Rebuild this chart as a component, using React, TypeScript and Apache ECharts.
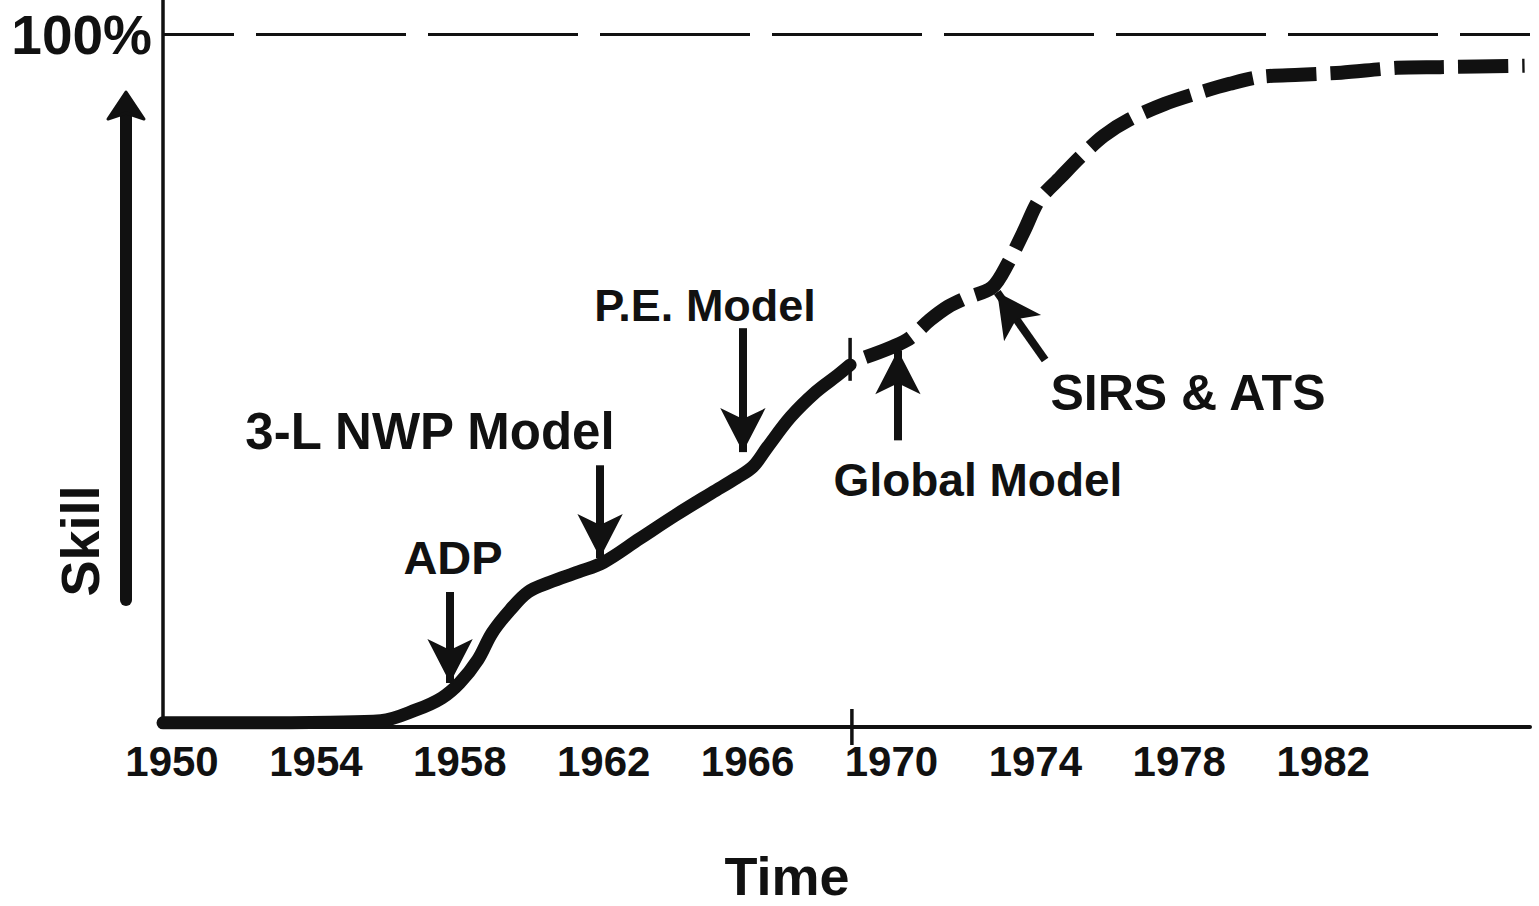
import { useEffect, useRef } from 'react';
import * as echarts from 'echarts';

// ---- data ----
const yearLabels = [1950, 1954, 1958, 1962, 1966, 1970, 1974, 1978, 1982];
const skillTicks = [100];

const solidYears = [1949.75, 1952.2, 1954.4, 1955.8, 1956.8, 1957.5, 1958.0, 1958.5, 1958.9, 1959.4, 1959.9, 1960.5, 1961.3, 1962.0, 1963.0, 1964.0, 1965.0, 1965.7, 1966.15, 1966.55, 1967.2, 1967.9, 1968.5, 1968.85];
const solidSkill = [0.6, 0.6, 0.7, 0.9, 2.5, 4.2, 6.4, 9.7, 13.6, 16.9, 19.5, 20.9, 22.4, 23.8, 27.2, 30.6, 33.8, 36.0, 37.6, 40.4, 44.8, 48.4, 50.8, 52.3];

const dashedYears = [1969.27, 1970.43, 1971.07, 1971.57, 1972.0, 1972.8, 1973.24, 1973.7, 1974.1, 1974.7, 1975.24, 1975.9, 1976.6, 1977.6, 1978.6, 1979.4, 1980.25, 1981.36, 1982.5, 1984.05, 1985.25, 1987.6];
const dashedSkill = [53.4, 55.9, 58.8, 60.7, 61.8, 63.5, 67.0, 71.8, 76.1, 79.4, 82.3, 85.4, 87.7, 90.0, 91.7, 92.9, 93.9, 94.2, 94.5, 95.2, 95.3, 95.5];

const breakYear = 1968.9;
const breakCurveSkill = [50.0, 56.2];
const breakAxisSkill = [-2.6, 2.6];

const yearMin = 1949.75;
const yearMax = 1987.75;
const skillMax = 105;

const arrowNames = ['ADP', '3-L NWP Model', 'P.E. Model', 'Global Model', 'SIRS & ATS'];
const arrowFrom = [[1957.73, 19.5], [1961.9, 37.8], [1965.87, 57.6], [1970.18, 41.4], [1974.27, 53.0]];
const arrowTo = [[1957.73, 6.35], [1961.9, 24.4], [1965.87, 39.7], [1970.18, 54.4], [1972.94, 62.8]];

const INK = '#111';
const FONT = '"Liberation Sans", Arial, sans-serif';

export default function App() {
  const ref = useRef<HTMLDivElement>(null);

  useEffect(() => {
    if (!ref.current) return;
    const chart = echarts.init(ref.current, null, { renderer: 'svg' });

    const txt = (text: string, x: number, y: number, size: number, rotation = 0) => ({
      type: 'text',
      x,
      y,
      rotation,
      silent: true,
      style: {
        text,
        fill: INK,
        font: `bold ${size}px ${FONT}`,
        textAlign: 'center',
        textVerticalAlign: 'middle',
      },
    });

    const option: any = {
      animation: false,
      backgroundColor: '#fff',
      grid: { left: 163, right: 9, top: 0, bottom: 179, containLabel: false },
      xAxis: {
        type: 'value',
        min: yearMin,
        max: yearMax,
        axisLine: { show: true, onZero: false, lineStyle: { color: INK, width: 4 } },
        axisTick: { show: false },
        splitLine: { show: false },
        axisLabel: {
          customValues: yearLabels,
          formatter: (v: number) => String(Math.round(v)),
          fontSize: 42,
          fontWeight: 'bold',
          fontFamily: FONT,
          color: INK,
          margin: 13,
        },
      },
      yAxis: {
        type: 'value',
        min: 0,
        max: skillMax,
        interval: 100,
        axisLine: { show: true, lineStyle: { color: INK, width: 3.5 } },
        axisTick: { show: false },
        splitLine: { show: false },
        axisLabel: {
          formatter: (v: number) => (skillTicks.includes(v) ? `${v}%` : ''),
          fontSize: 55,
          fontWeight: 'bold',
          fontFamily: FONT,
          color: INK,
          margin: 11,
        },
      },
      series: [
        {
          type: 'line',
          data: [[yearMin, 100], [yearMax, 100]],
          symbol: 'none',
          silent: true,
          lineStyle: { color: INK, width: 3, type: [150, 22], dashOffset: 79 },
        },
        {
          type: 'line',
          data: solidYears.map((y, i) => [y, solidSkill[i]]),
          symbol: 'none',
          smooth: 0.35,
          silent: true,
          lineStyle: { color: INK, width: 13, cap: 'round', join: 'round' },
        },
        {
          type: 'line',
          data: dashedYears.map((y, i) => [y, dashedSkill[i]]),
          symbol: 'none',
          smooth: 0.3,
          silent: true,
          lineStyle: { color: INK, width: 14, type: [50, 14], cap: 'butt', join: 'round' },
        },
        {
          type: 'line',
          data: breakCurveSkill.map((s) => [breakYear - 0.05, s]),
          symbol: 'none',
          silent: true,
          clip: false,
          lineStyle: { color: INK, width: 3.5 },
        },
        {
          type: 'line',
          data: breakAxisSkill.map((s) => [breakYear, s]),
          symbol: 'none',
          silent: true,
          clip: false,
          lineStyle: { color: INK, width: 3.5 },
        },
        {
          type: 'line',
          data: [],
          symbol: 'none',
          silent: true,
          clip: false,
          markLine: {
            silent: true,
            animation: false,
            symbol: ['none', 'arrow'],
            symbolSize: [34, 44],
            label: { show: false },
            lineStyle: { color: INK, width: 8, type: 'solid' },
            emphasis: { disabled: true },
            data: arrowNames.map((name, i) => [
              { name, coord: arrowFrom[i] },
              { coord: arrowTo[i] },
            ]),
          },
        },
      ],
      graphic: [
        txt('ADP', 453, 557, 47),
        txt('3-L NWP Model', 430, 431, 51),
        txt('P.E. Model', 705, 305, 45),
        txt('Global Model', 978, 480, 46),
        txt('SIRS & ATS', 1188, 393, 50),
        txt('Time', 787, 876, 54),
        txt('Skill', 80, 541, 54, Math.PI / 2),
        {
          type: 'line',
          silent: true,
          shape: { x1: 126, y1: 600, x2: 126, y2: 112 },
          style: { stroke: INK, lineWidth: 12, lineCap: 'round' },
        },
        {
          type: 'polygon',
          silent: true,
          shape: { points: [[126, 92], [108, 119], [126, 113], [144, 119]] },
          style: { fill: INK, stroke: INK, lineWidth: 3, lineJoin: 'round' },
        },
      ],
    };

    chart.setOption(option);
    return () => chart.dispose();
  }, []);

  return (
    <div
      ref={ref}
      style={{ position: 'fixed', left: 0, top: 0, width: 1539, height: 906, background: '#fff' }}
    />
  );
}
